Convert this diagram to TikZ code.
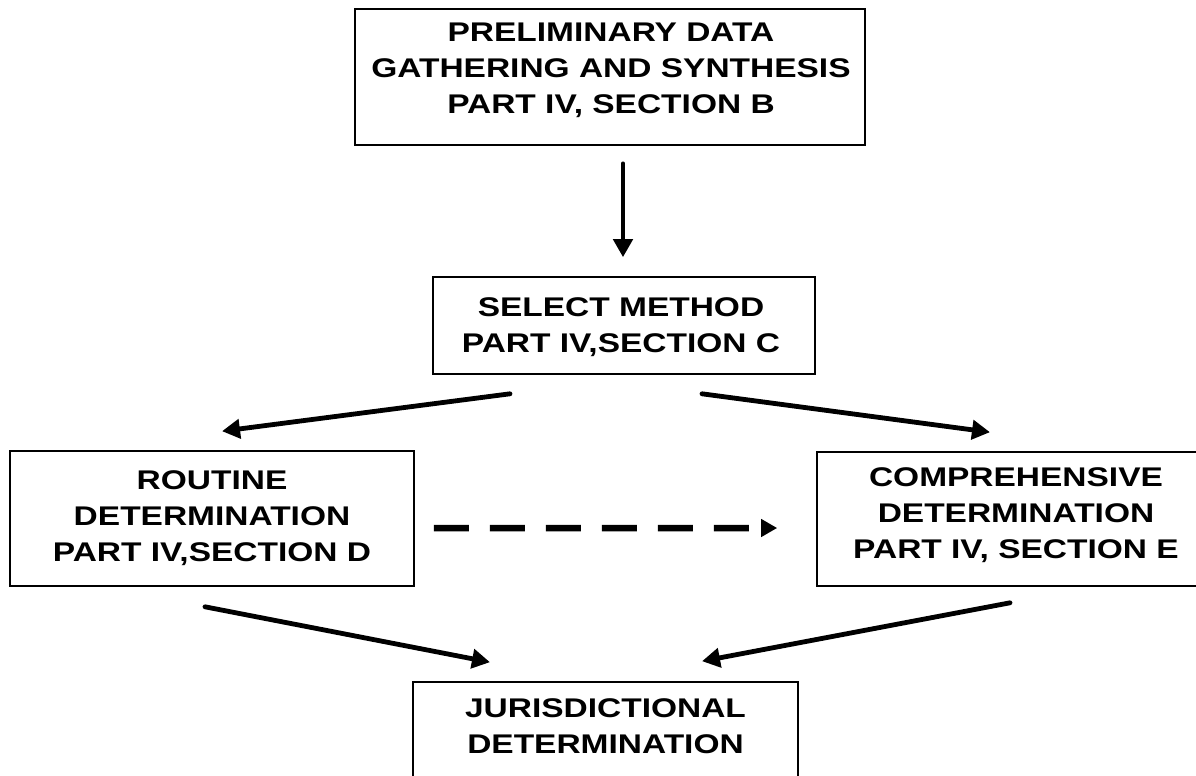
\documentclass[tikz,border=0pt]{standalone}
\usepackage{fontspec}
\setmainfont{Liberation Sans}[FakeStretch=1.24]
\usetikzlibrary{arrows.meta,calc}
\begin{document}
\begin{tikzpicture}[x=1bp,y=-1bp,
  box/.style={draw=black, line width=1.6bp, rectangle, inner sep=0pt},
  lbl/.style={font=\fontsize{27bp}{36bp}\selectfont\bfseries, align=center, inner sep=0pt, text=black},
  arr/.style={line width=4.8bp, line cap=round, -{Triangle[width=19bp,length=18bp]}},
  darr/.style={line width=6.5bp, dash pattern=on 35bp off 21bp, -{Triangle[width=17bp,length=16bp]}}]
\useasboundingbox (0,0) rectangle (1196,776);
\clip (0,0) rectangle (1196,776);
\fill[white] (0,0) rectangle (1196,776);

% boxes
\node[box, minimum width=510bp, minimum height=136bp] (top) at (610,77) {};
\node[box, minimum width=382bp, minimum height=97bp] (sel) at (624,325.5) {};
\node[box, minimum width=404bp, minimum height=135bp] (rout) at (212,518.5) {};
\node[box, minimum width=402bp, minimum height=134bp] (comp) at (1018,519) {};
\node[box, minimum width=385bp, minimum height=148bp] (jur) at (605.5,756) {};

% texts
\node[lbl] (toptxt) at (611,70) {PRELIMINARY DATA\\GATHERING AND SYNTHESIS\\PART IV, SECTION B};
\node[lbl] (seltxt) at (621,327) {SELECT METHOD\\PART IV,SECTION C};
\node[lbl] (routtxt) at (212,518) {ROUTINE\\DETERMINATION\\PART IV,SECTION D};
\node[lbl] (comptxt) at (1016,515) {COMPREHENSIVE\\DETERMINATION\\PART IV, SECTION E};
\node[lbl] (jurtxt) at (605.5,726) {JURISDICTIONAL\\DETERMINATION};

% connectors
\draw[arr] ($(top.south)+(13,18)$) -- ($(sel.north)+(-1,-19)$);
\draw[arr] ($(sel.south)+(-114,19)$) -- ($(rout.north)+(10,-19)$);
\draw[arr] ($(sel.south)+(78,19)$) -- ($(comp.north)+(-28,-19)$);
\draw[darr] ($(rout.east)+(19,9.5)$) -- ($(comp.west)+(-39,9)$);
\draw[arr] ($(rout.south)+(-7,20)$) -- ($(jur.north)+(-115.5,-19)$);
\draw[arr] ($(comp.south)+(-8,16)$) -- ($(jur.north)+(96.5,-20)$);
\end{tikzpicture}
\end{document}
